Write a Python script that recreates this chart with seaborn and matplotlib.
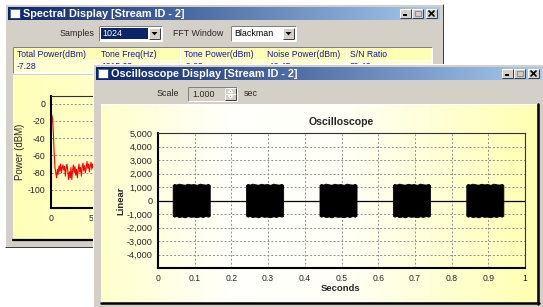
import numpy as np
import pandas as pd
import matplotlib
matplotlib.use("Agg")
import matplotlib.pyplot as plt
import seaborn as sns
from matplotlib.patches import Rectangle, Polygon
from matplotlib.ticker import FuncFormatter, FixedLocator

# ---------------- data ----------------
spectral_title = "Spectral Display [Stream ID - 2]"
scope_title = "Oscilloscope Display [Stream ID - 2]"
table_headers = ["Total Power(dBm)", "Tone Freq(Hz)", "Tone Power(dBm)", "Noise Power(dBm)", "S/N Ratio"]
table_values = ["-7.28", "1015.63", "-9.03", "-49.45", "39.42"]
samples_value = "1024"
fft_window_value = "Blackman"
scale_value = "1.000"

spec_freq = [0.1, 0.2, 0.3, 0.4, 0.5, 0.6, 0.7, 0.8, 0.9, 1.0,
             1.1, 1.2, 1.3, 1.4, 1.5, 1.6, 1.7, 1.8, 1.9, 2.0,
             2.1, 2.2, 2.3, 2.4, 2.5, 2.6, 2.7, 2.8, 2.9, 3.0,
             3.1, 3.2, 3.3, 3.4, 3.5, 3.6, 3.7, 3.8, 3.9, 4.0,
             4.1, 4.2, 4.3, 4.4, 4.5, 4.6, 4.7, 4.8, 4.9, 5.0,
             5.1, 5.2, 5.3, 5.4]
spec_power = [-13, -18, -35, -58, -74, -80, -86, -76, -82, -72,
              -78, -70, -80, -74, -71, -77, -73, -84, -75, -70,
              -78, -88, -79, -86, -74, -88, -77, -71, -80, -73,
              -83, -76, -86, -77, -70, -79, -74, -84, -73, -69,
              -78, -72, -80, -74, -67, -75, -70, -79, -72, -68,
              -76, -70, -75, -72]
spec_yticks = [0, -20, -40, -60, -80, -100]
spec_xticks = [0, 5]

burst_starts = [0.04, 0.24, 0.44, 0.64, 0.84]
burst_offsets = [0.000, 0.004, 0.010, 0.017, 0.025, 0.033, 0.041, 0.049,
                 0.057, 0.066, 0.074, 0.082, 0.090, 0.097, 0.101]
burst_upper = [1150, 1230, 1180, 1250, 1200, 1170, 1240, 1190,
               1220, 1160, 1250, 1200, 1180, 1230, 1150]
burst_lower = [-1120, -1200, -1150, -1230, -1180, -1250, -1160, -1210,
               -1190, -1240, -1170, -1220, -1150, -1200, -1130]
scope_time = [0.0, 1.0]
scope_base = [0, 0]
scope_xticks = [0, 0.1, 0.2, 0.3, 0.4, 0.5, 0.6, 0.7, 0.8, 0.9, 1]
scope_yticks = [-4000, -3000, -2000, -1000, 0, 1000, 2000, 3000, 4000, 5000]

# ---------------- setup ----------------
sns.set_style("white")
plt.rcParams["font.family"] = ["Liberation Sans", "DejaVu Sans"]
W, H = 543, 307
fig = plt.figure(figsize=(W / 100, H / 100), dpi=100)
fig.patch.set_facecolor("white")

GRAY = "#d4d0c8"
DARK = "#404040"
MID = "#808080"
TITLE_FONT = ["Liberation Sans Narrow", "Liberation Sans", "DejaVu Sans"]
PX = 0.72


def box(x0, y0, x1, y1):
    return [x0 / W, 1 - y1 / H, (x1 - x0) / W, (y1 - y0) / H]


def chrome_axes(z):
    a = fig.add_axes([0, 0, 1, 1], zorder=z)
    a.set_xlim(0, W)
    a.set_ylim(H, 0)
    a.axis("off")
    a.patch.set_alpha(0)
    return a


def rect(a, x0, y0, x1, y1, color, z=1):
    a.add_patch(Rectangle((x0, y0), x1 - x0, y1 - y0, facecolor=color, edgecolor="none", zorder=z))


def bevel(a, x0, y0, x1, y1, raised=True, z=2):
    tl, br = ("white", DARK) if raised else (MID, "white")
    a.plot([x0, x1], [y0, y0], color=tl, lw=PX, zorder=z, solid_capstyle="butt")
    a.plot([x0, x0], [y0, y1], color=tl, lw=PX, zorder=z, solid_capstyle="butt")
    a.plot([x0, x1], [y1, y1], color=br, lw=PX, zorder=z, solid_capstyle="butt")
    a.plot([x1, x1], [y0, y1], color=br, lw=PX, zorder=z, solid_capstyle="butt")


def hgrad(a, x0, y0, x1, y1, c0, c1, z=1):
    c0 = np.array(matplotlib.colors.to_rgb(c0))
    c1 = np.array(matplotlib.colors.to_rgb(c1))
    t = np.linspace(0, 1, 256)[None, :, None]
    img = c0 * (1 - t) + c1 * t
    a.imshow(img, extent=(x0, x1, y1, y0), aspect="auto", zorder=z, interpolation="bilinear")


def title_bar(a, x0, y0, x1, y1, text):
    hgrad(a, x0, y0, x1, y1, "#0a246a", "#a6caf0", z=2)
    rect(a, x0 + 2, y0 + 2, x0 + 12, y0 + 11, "white", z=3)
    a.add_patch(Rectangle((x0 + 2, y0 + 2), 10, 9, facecolor="none", edgecolor="#3050a0", lw=0.6, zorder=4))
    a.text(x0 + 15, (y0 + y1) / 2 + 0.5, text, color="white", fontsize=7.8, fontweight="bold",
           family=TITLE_FONT, va="center", ha="left", zorder=4)
    bx = [x1 - 40, x1 - 28, x1 - 14]
    for i, b in enumerate(bx):
        rect(a, b, y0 + 2, b + 11, y1 - 2, GRAY, z=3)
        bevel(a, b, y0 + 2, b + 11, y1 - 2, True, z=4)
        cy0, cy1 = y0 + 2, y1 - 2
        if i == 0:
            a.plot([b + 3, b + 7], [cy1 - 3, cy1 - 3], color="black", lw=1.4, zorder=5, solid_capstyle="butt")
        elif i == 1:
            a.add_patch(Rectangle((b + 2.5, cy0 + 2), 6, 5, facecolor="none", edgecolor="#909090", lw=0.8, zorder=5))
        else:
            a.plot([b + 3, b + 8], [cy0 + 2, cy1 - 2], color="black", lw=1.2, zorder=5)
            a.plot([b + 3, b + 8], [cy1 - 2, cy0 + 2], color="black", lw=1.2, zorder=5)
    a.set_xlim(0, W)
    a.set_ylim(H, 0)


def combo(a, x0, y0, x1, y1, text, selected=False):
    rect(a, x0, y0, x1, y1, "white", z=2)
    bevel(a, x0, y0, x1, y1, False, z=3)
    if selected:
        rect(a, x0 + 2, y0 + 2, x1 - 14, y1 - 2, "#0a246a", z=3)
    a.text(x0 + 3, (y0 + y1) / 2 + 0.5, text, fontsize=6.4, va="center", ha="left",
           color="white" if selected else "black", zorder=4)
    b0 = x1 - 13
    rect(a, b0, y0 + 2, x1 - 2, y1 - 2, GRAY, z=3)
    bevel(a, b0, y0 + 2, x1 - 2, y1 - 2, True, z=4)
    cx, cy = (b0 + x1 - 2) / 2, (y0 + y1) / 2
    a.add_patch(Polygon([[cx - 3, cy - 1.5], [cx + 3, cy - 1.5], [cx, cy + 1.8]], closed=True,
                        facecolor="black", edgecolor="none", zorder=5))


# ---------------- back window (Spectral) ----------------
back = chrome_axes(0)
rect(back, 5, 4, 443, 247, GRAY)
bevel(back, 5, 4, 443, 247, True)
title_bar(back, 8, 7, 440, 20, spectral_title)
back.text(60, 33, "Samples", fontsize=6.4, va="center", ha="left")
combo(back, 99, 26, 162, 41, samples_value, selected=True)
back.text(173, 33, "FFT Window", fontsize=6.4, va="center", ha="left")
combo(back, 231, 26, 296, 41, fft_window_value)

# table
rect(back, 13, 47, 432, 73, "white", z=2)
rect(back, 14, 48, 431, 60, "#ffffb4", z=2)
rect(back, 14, 61, 431, 72, "#ffffd0", z=2)
clip_visible = Rectangle((0, 0), W, 64, transform=back.transData, facecolor="none", edgecolor="none")
back.add_patch(clip_visible)
col_x = [14, 98, 181, 264, 347]
for i, cx in enumerate(col_x):
    if i > 0:
        back.plot([cx - 1, cx - 1], [48, 72], color="white", lw=PX, zorder=3)
    back.text(cx + 3, 54.5, table_headers[i], fontsize=6.2, color="#1010c0", va="center", ha="left", zorder=4)
    tv = back.text(cx + 3, 66.5, table_values[i], fontsize=6.2, color="#1010c0", va="center", ha="left", zorder=4)
    if i > 0:
        tv.set_clip_path(clip_visible)
bevel(back, 13, 47, 432, 73, False, z=4)

# chart panel
c0 = np.array([1.0, 1.0, 0.72])
c1 = np.array([1.0, 1.0, 0.95])
t = np.linspace(0, 1, 256)[None, :, None]
back.imshow(c0 * (1 - t) + c1 * t, extent=(13, 300, 240, 75), aspect="auto", zorder=2)
back.plot([13, 300], [240, 240], color="black", lw=1.6, zorder=3)
back.set_xlim(0, W)
back.set_ylim(H, 0)

spec = fig.add_axes(box(51, 96, 251, 208), zorder=1)
spec.patch.set_alpha(0)
sns.lineplot(x=spec_freq, y=spec_power, color="red", lw=0.8, ax=spec)
spec.set_xlim(0, 25)
spec.set_ylim(-121, 9)
spec.yaxis.set_major_locator(FixedLocator(spec_yticks))
spec.xaxis.set_major_locator(FixedLocator(spec_xticks))
spec.yaxis.set_major_formatter(FuncFormatter(lambda v, p: f"{int(v)}"))
spec.xaxis.set_major_formatter(FuncFormatter(lambda v, p: f"{int(v)}"))
for yv in spec_yticks:
    spec.axhline(yv, color="#909090", lw=0.7, ls=(0, (2, 2)), zorder=0)
spec.tick_params(labelsize=6.3, length=0, pad=4)
spec.set_ylabel("Power (dBM)", fontsize=7)
spec.yaxis.set_label_coords(-0.13, 0.5)
for s in ["left", "bottom"]:
    spec.spines[s].set_color("black")
    spec.spines[s].set_linewidth(1.5)
for s in ["top", "right"]:
    spec.spines[s].set_color("#303030")
    spec.spines[s].set_linewidth(0.8)

# ---------------- front window (Oscilloscope) ----------------
front = chrome_axes(2)
rect(front, 93, 64, 545, 310, GRAY)
bevel(front, 93, 64, 545, 310, True)
title_bar(front, 96, 67, 542, 80, scope_title)
front.text(157, 94, "Scale", fontsize=6.4, va="center", ha="left")
rect(front, 188, 87, 237, 101, GRAY, z=2)
bevel(front, 188, 87, 237, 101, False, z=3)
front.text(192, 94.5, scale_value, fontsize=6.4, va="center", ha="left", zorder=4)
rect(front, 225, 88, 236, 94, GRAY, z=3)
bevel(front, 225, 88, 236, 94, True, z=4)
rect(front, 225, 94, 236, 100, GRAY, z=3)
bevel(front, 225, 94, 236, 100, True, z=4)
front.add_patch(Polygon([[228.5, 92.5], [232.5, 92.5], [230.5, 90]], facecolor="black", zorder=5))
front.add_patch(Polygon([[228.5, 95.5], [232.5, 95.5], [230.5, 98]], facecolor="black", zorder=5))
front.text(244, 94, "sec", fontsize=6.4, va="center", ha="left")

xs = np.linspace(0, 1, 300)
r = np.ones_like(xs)
b = np.interp(xs, [0, 0.3, 0.55, 1.0], [0.80, 0.99, 0.97, 0.70])
img = np.stack([r, r, b], axis=-1)[None, :, :]
front.imshow(img, extent=(101, 537, 303, 104), aspect="auto", zorder=2)
front.plot([101, 537], [104, 104], color="white", lw=PX, zorder=3)
front.plot([538, 538], [104, 304], color="black", lw=1.8, zorder=3)
front.plot([101, 539], [303, 303], color="black", lw=1.8, zorder=3)
front.set_xlim(0, W)
front.set_ylim(H, 0)

osc = fig.add_axes(box(158, 133, 525, 268), zorder=3)
osc.patch.set_alpha(0)
trace = pd.DataFrame({"t": scope_time, "v": scope_base})
sns.lineplot(data=trace, x="t", y="v", color="black", lw=0.9, ax=osc)
for st in burst_starts:
    tt = [st + o for o in burst_offsets]
    osc.fill_between(tt, burst_lower, burst_upper, color="black", lw=0.6, zorder=3)
osc.set_xlim(0, 1)
osc.set_ylim(-5000, 5000)
osc.xaxis.set_major_locator(FixedLocator(scope_xticks))
osc.yaxis.set_major_locator(FixedLocator(scope_yticks))
osc.yaxis.set_major_formatter(FuncFormatter(lambda v, p: f"{int(v):,}"))
osc.xaxis.set_major_formatter(FuncFormatter(lambda v, p: f"{v:g}"))
osc.grid(True, color="#909090", lw=0.7, ls=(0, (2, 2)))
osc.tick_params(axis="y", labelsize=6.6, length=0, pad=4)
osc.tick_params(axis="x", labelsize=6.2, length=0, pad=4.5)
osc.set_title("Oscilloscope", fontsize=7.6, fontweight="bold", pad=6)
osc.set_xlabel("Seconds", fontsize=6.8, fontweight="bold")
osc.xaxis.set_label_coords(0.496, -0.115)
osc.set_ylabel("Linear", fontsize=6.8, fontweight="bold")
osc.yaxis.set_label_coords(-0.09, 0.5)
for s in ["left", "bottom"]:
    osc.spines[s].set_color("black")
    osc.spines[s].set_linewidth(1.5)
for s in ["top", "right"]:
    osc.spines[s].set_color("#303030")
    osc.spines[s].set_linewidth(0.8)

fig.savefig("out.png", dpi=100)
